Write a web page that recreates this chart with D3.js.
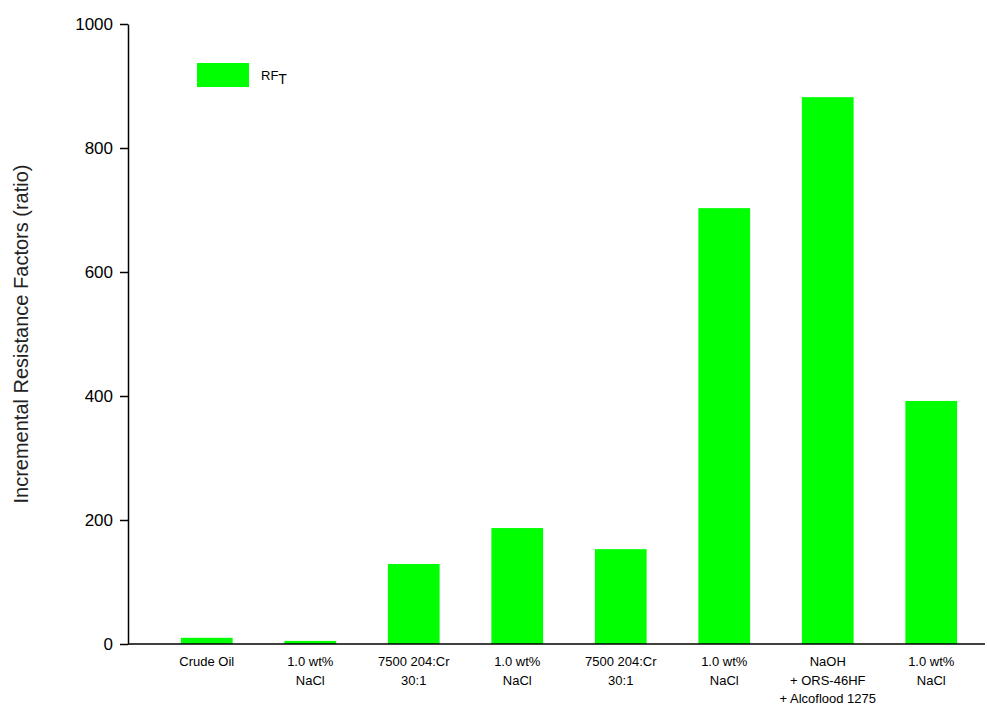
<!DOCTYPE html>
<html><head><meta charset="utf-8">
<script src="https://cdn.jsdelivr.net/npm/d3@7"></script>
<style>body{margin:0;background:#fff}text{font-family:"Liberation Sans",Arial,sans-serif}</style>
</head><body>
<script>
// categories (lines of each label) and values
var categories = [
    ["Crude Oil"],
    ["1.0 wt%", "NaCl"],
    ["7500 204:Cr", "30:1"],
    ["1.0 wt%", "NaCl"],
    ["7500 204:Cr", "30:1"],
    ["1.0 wt%", "NaCl"],
    ["NaOH", "+ ORS-46HF", "+ Alcoflood 1275"],
    ["1.0 wt%", "NaCl"]
];
var rfT = [10, 5, 129, 187, 153, 703, 882, 392];
var yTicks = [0, 200, 400, 600, 800, 1000];

var width = 987, height = 706;
var svg = d3.select("body").append("svg").attr("width", width).attr("height", height);

var x = d3.scaleBand().domain(d3.range(categories.length)).range([155, 983]).paddingInner(0.5).paddingOuter(0.25);
var y = d3.scaleLinear().domain([0, 1000]).range([644, 24]);

// bars
svg.selectAll("rect.bar").data(rfT).enter().append("rect")
    .attr("class", "bar")
    .attr("x", function(d, i) { return x(i); })
    .attr("width", x.bandwidth())
    .attr("y", function(d) { return y(d); })
    .attr("height", function(d) { return y(0) - y(d); })
    .attr("fill", "#00ff00");

// y axis
var yAxis = d3.axisLeft(y).tickValues(yTicks).tickFormat(d3.format("d")).tickSize(8).tickSizeOuter(0);
var gy = svg.append("g").attr("transform", "translate(128,0)").call(yAxis);
gy.selectAll("text").style("font-size", "17px").attr("fill", "#000").attr("dx", "-4");
gy.select(".domain").attr("stroke-width", 1.5);
gy.selectAll(".tick line").attr("stroke-width", 1.5);

// x baseline
svg.append("line").attr("x1", 128).attr("x2", 985).attr("y1", 644).attr("y2", 644)
    .attr("stroke", "#000").attr("stroke-width", 1.5);

// x labels
categories.forEach(function(lines, i) {
    var t = svg.append("text")
        .attr("x", x(i) + x.bandwidth() / 2)
        .attr("y", 666)
        .attr("text-anchor", "middle")
        .style("font-size", "13px");
    lines.forEach(function(l, j) {
        t.append("tspan").attr("x", x(i) + x.bandwidth() / 2).attr("dy", j ? 18.5 : 0).text(l);
    });
});

// y title
svg.append("text")
    .attr("transform", "translate(28,334) rotate(-90)")
    .attr("text-anchor", "middle")
    .style("font-size", "20px")
    .attr("fill", "#222")
    .text("Incremental Resistance Factors (ratio)");

// legend
svg.append("rect").attr("x", 197).attr("y", 63).attr("width", 52).attr("height", 24).attr("fill", "#00ff00");
var lt = svg.append("text").attr("x", 261).attr("y", 80).style("font-size", "13px");
lt.append("tspan").text("RF");
lt.append("tspan").attr("dy", 4).style("font-size", "14px").text("T");
</script>
</body></html>
